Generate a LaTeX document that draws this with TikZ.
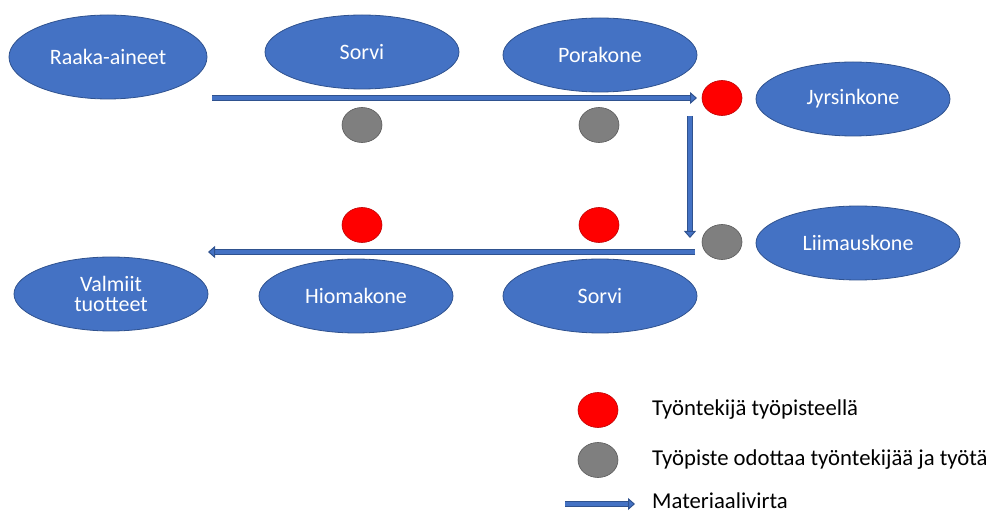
\documentclass[tikz,border=0pt]{standalone}
\usepackage{fontspec}
\setmainfont{Carlito}
\usetikzlibrary{shapes.geometric,arrows.meta}
\definecolor{mblue}{HTML}{4472C4}
\definecolor{mdark}{HTML}{2F528F}
\definecolor{mred}{HTML}{FF0000}
\definecolor{mgray}{HTML}{7F7F7F}
\begin{document}
\begin{tikzpicture}[x=1pt,y=-1pt,
  machine/.style={ellipse, fill=mblue, draw=mdark, line width=0.8pt, minimum width=194pt, minimum height=74pt, inner sep=0pt, text=white, font=\fontsize{22}{20}\selectfont, align=center},
  worker/.style={ellipse, fill=mred, draw=mred!75!black, line width=0.6pt, minimum width=40pt, minimum height=35pt, inner sep=0pt},
  idle/.style={ellipse, fill=mgray, draw=mgray!70!black, line width=0.6pt, minimum width=40pt, minimum height=35pt, inner sep=0pt},
  flow/.style={draw=mdark, line width=1pt, double=mblue, double distance=4pt, -{Triangle[length=7pt,width=12pt,fill=mblue]}},
  legendtext/.style={anchor=west, font=\fontsize{22.7}{24}\selectfont, inner sep=0pt}]
\useasboundingbox (0,0) rectangle (989,513);
% machines
\node[machine, minimum width=198pt, minimum height=84pt] (raaka) at (108,57) {Raaka-aineet};
\node[machine] (sorvi1) at (362,52) {Sorvi};
\node[machine] (pora) at (600,55) {Porakone};
\node[machine] (jyrsin) at (853,99) {Jyrsinkone};
\node[machine, minimum width=204pt] (liima) at (858,243) {Liimauskone};
\node[machine] (valmiit) at (111,294) {Valmiit\\tuotteet};
\node[machine] (hioma) at (356,296) {Hiomakone};
\node[machine] (sorvi2) at (600,296) {Sorvi};
% status markers
\node[idle] (g1) at (362,125) {};
\node[idle] (g2) at (599,125) {};
\node[worker] (r1) at (722,98) {};
\node[idle] (g3) at (722,242) {};
\node[worker] (r2) at (362,225) {};
\node[worker] (r3) at (599,225) {};
% flow arrows
\coordinate (t1) at (212,98);
\coordinate (t2) at (697,98);
\coordinate (v1) at (690,116);
\coordinate (v2) at (690,238);
\coordinate (b1) at (695,252);
\coordinate (b2) at (208,252);
\draw[flow] (t1) -- (t2);
\draw[flow] (v1) -- (v2);
\draw[flow] (b1) -- (b2);
% legend
\node[worker] (lr) at (598,410) {};
\node[idle] (lg) at (598,460) {};
\coordinate (la1) at (565,504);
\coordinate (la2) at (635,504);
\draw[flow] (la1) -- (la2);
\node[legendtext] (lt1) at (652,410) {Työntekijä työpisteellä};
\node[legendtext] (lt2) at (652,460) {Työpiste odottaa työntekijää ja työtä};
\node[legendtext] (lt3) at (652,501) {Materiaalivirta};
\end{tikzpicture}
\end{document}
